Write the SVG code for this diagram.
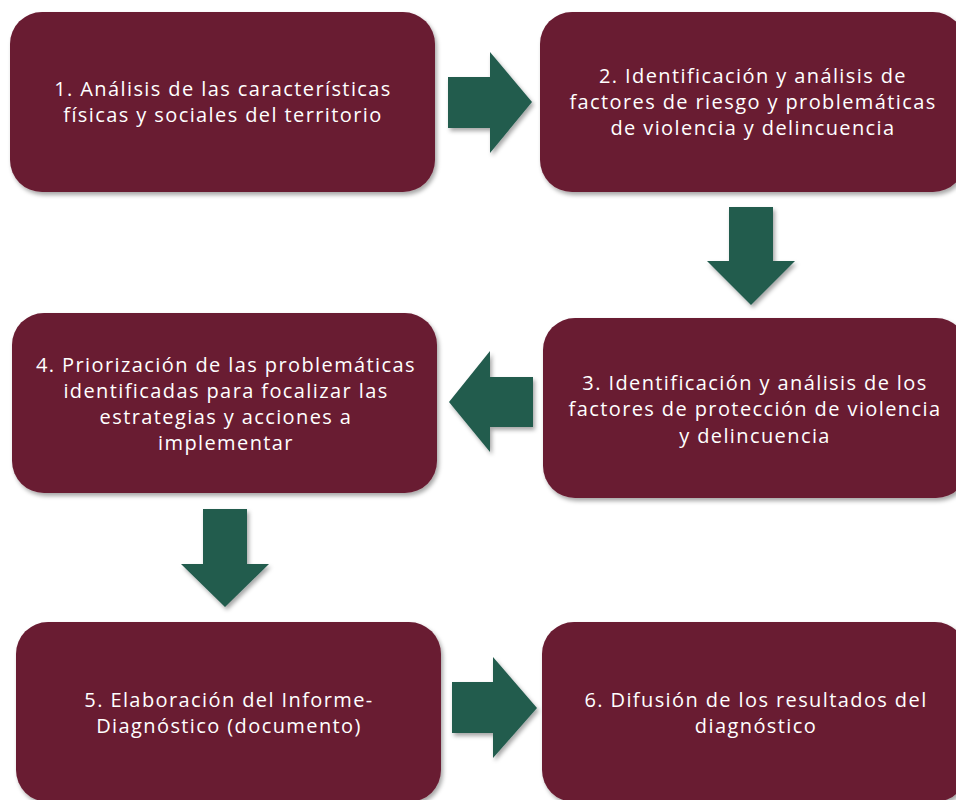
<svg xmlns="http://www.w3.org/2000/svg" width="956" height="800" viewBox="0 0 956 800">
  <defs>
    <filter id="sh" x="-10%" y="-10%" width="120%" height="130%">
      <feDropShadow dx="2" dy="3" stdDeviation="2" flood-color="#000" flood-opacity="0.35"/>
    </filter>
  </defs>
  <style>
    .box { fill: #691C32; filter: url(#sh); }
    .arr { fill: #235B4E; filter: url(#sh); }
    .t { fill: #ffffff; font-family: "Open Sans", "Liberation Sans", sans-serif; font-size: 20px; letter-spacing: 1.4px; text-anchor: middle; }
  </style>
  <rect width="956" height="800" fill="#ffffff"/>
  <g id="connectors">
    <polygon class="arr" points="448,77 490,77 490,52 532,102 490,153 490,128 448,128"/>
    <polygon class="arr" points="729,207 773,207 773,261 795,261 751,305 707,261 729,261"/>
    <polygon class="arr" points="533,377 490,377 490,351 449,402 490,452 490,427 533,427"/>
    <polygon class="arr" points="203,509 247,509 247,564 269,564 225,607 181,564 203,564"/>
    <polygon class="arr" points="452,682 493,682 493,657 537,708 493,758 493,733 452,733"/>
  </g>
  <g id="node1">
    <rect class="box" x="10" y="12" width="425" height="180" rx="32"/>
    <text class="t" x="223" y="96">1. Análisis de las características</text>
    <text class="t" x="223" y="122">físicas y sociales del territorio</text>
  </g>
  <g id="node2">
    <rect class="box" x="540" y="12" width="425" height="180" rx="32"/>
    <text class="t" x="753" y="83">2. Identificación y análisis de</text>
    <text class="t" x="753" y="109">factores de riesgo y problemáticas</text>
    <text class="t" x="753" y="135">de violencia y delincuencia</text>
  </g>
  <g id="node3">
    <rect class="box" x="543" y="318" width="425" height="180" rx="32"/>
    <text class="t" x="755" y="390">3. Identificación y análisis de los</text>
    <text class="t" x="755" y="416">factores de protección de violencia</text>
    <text class="t" x="755" y="443">y delincuencia</text>
  </g>
  <g id="node4">
    <rect class="box" x="12" y="313" width="425" height="180" rx="32"/>
    <text class="t" x="226" y="372">4. Priorización de las problemáticas</text>
    <text class="t" x="226" y="398">identificadas para focalizar las</text>
    <text class="t" x="226" y="424">estrategias y acciones a</text>
    <text class="t" x="226" y="450">implementar</text>
  </g>
  <g id="node5">
    <rect class="box" x="16" y="622" width="425" height="180" rx="32"/>
    <text class="t" x="229" y="707">5. Elaboración del Informe-</text>
    <text class="t" x="229" y="733">Diagnóstico (documento)</text>
  </g>
  <g id="node6">
    <rect class="box" x="542" y="622" width="425" height="180" rx="32"/>
    <text class="t" x="756" y="707">6. Difusión de los resultados del</text>
    <text class="t" x="756" y="733">diagnóstico</text>
  </g>
</svg>
